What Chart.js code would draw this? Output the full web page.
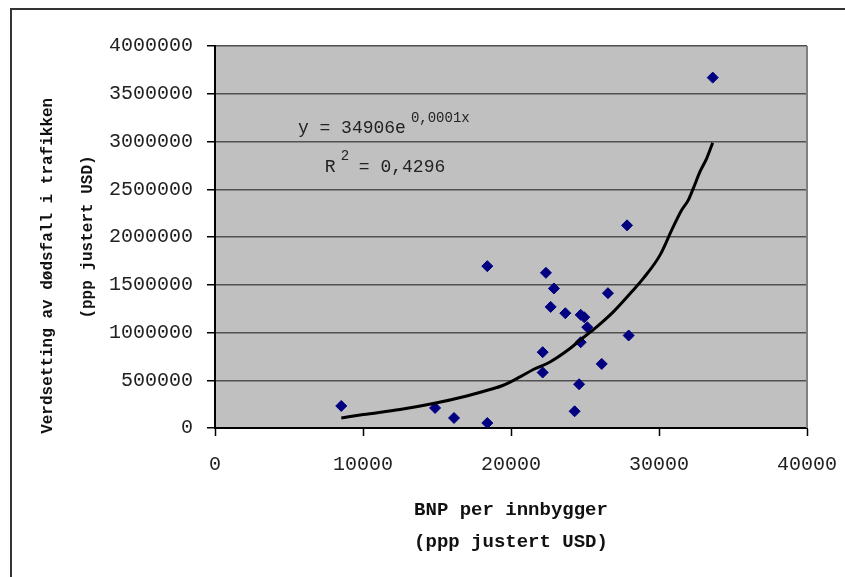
<!DOCTYPE html>
<html>
<head>
<meta charset="utf-8">
<script src="https://cdn.jsdelivr.net/npm/chart.js@4.4.1/dist/chart.umd.min.js"></script>
<style>
  html, body { margin: 0; padding: 0; background: #fff; overflow: hidden; }
  #wrap { position: relative; width: 845px; height: 577px; }
  #frame { position: absolute; left: 10px; top: 8px; width: 900px; height: 700px;
           border-left: 2px solid #333; border-top: 2px solid #333; pointer-events: none; }
  canvas { position: absolute; left: 0; top: 0; }
</style>
</head>
<body>
<div id="wrap">
  <canvas id="c" width="845" height="577"></canvas>
  <div id="frame"></div>
</div>
<script>
// ---- Data ----
const gdpPerCapita = [8530, 14870, 16150, 18400, 18400, 22140, 22140, 22360, 22680, 22900, 23670,
                      24300, 24600, 24710, 24710, 24950, 25150, 26130, 26550, 27840, 27950, 33630];
const deathValuation = [231000, 210000, 105000, 52000, 1695000, 794000, 581000, 1625000, 1268000, 1461000, 1202000,
                        175000, 458000, 898000, 1185000, 1160000, 1056000, 671000, 1412000, 2122000, 969000, 3669000];

// Trend line
const trendX = [8534, 10020, 12500, 14750, 17007, 18581, 19480, 20608, 21507, 22635, 23986, 24662, 25791,
                26912, 28155, 28939, 30068, 30858, 31534, 31980, 32318, 32770, 33223, 33628];
const trendY = [104800, 140500, 192900, 255800, 335400, 402500, 447600, 534600, 612200, 691800, 832300, 919300, 1058700,
                1215900, 1425600, 1566000, 1810300, 2072300, 2281900, 2386700, 2509400, 2683400, 2823900, 2987400];

const xTickLabels = ["0", "10000", "20000", "30000", "40000"];
const yTickLabels = ["0", "500000", "1000000", "1500000", "2000000", "2500000", "3000000", "3500000", "4000000"];

const xTitle = ["BNP per innbygger", "(ppp justert USD)"];
const yTitle = ["Verdsetting av dødsfall i trafikken      ", "(ppp justert USD)"];

const eqMain = "y = 34906e";
const eqExp = "0,0001x";
const r2Main = "R";
const r2Exp = "2";
const r2Rest = "= 0,4296";
// anchor of the equation label in data units
const eqAnchor = { x: 5600, y: 3089000 };
const r2Anchor = { x: 7420, y: 2683000 };

// ---- Chart ----
const monoFont = "'Liberation Mono', 'DejaVu Sans Mono', monospace";

const plotBg = {
  id: 'plotBg',
  beforeDraw(chart) {
    const { ctx, chartArea: a } = chart;
    ctx.save();
    ctx.fillStyle = '#C0C0C0';
    ctx.fillRect(a.left, a.top, a.right - a.left, a.bottom - a.top);
    ctx.restore();
  },
  afterDraw(chart) {
    const { ctx, chartArea: a, scales } = chart;
    ctx.save();
    ctx.strokeStyle = '#808080';
    ctx.lineWidth = 2;
    ctx.beginPath();
    ctx.moveTo(a.right, a.top);
    ctx.lineTo(a.right, a.bottom);
    ctx.stroke();

    // equation label
    ctx.fillStyle = '#222';
    ctx.textBaseline = 'alphabetic';
    ctx.textAlign = 'left';
    const ex = scales.x.getPixelForValue(eqAnchor.x);
    const ey = scales.y.getPixelForValue(eqAnchor.y);
    ctx.font = "18px " + monoFont;
    ctx.fillText(eqMain, ex, ey);
    const w1 = ctx.measureText(eqMain).width;
    ctx.font = "14px " + monoFont;
    ctx.fillText(eqExp, ex + w1 + 5, ey - 11);

    const rx = scales.x.getPixelForValue(r2Anchor.x);
    const ry = scales.y.getPixelForValue(r2Anchor.y);
    ctx.font = "18px " + monoFont;
    ctx.fillText(r2Main, rx, ry);
    ctx.font = "14px " + monoFont;
    ctx.fillText(r2Exp, rx + 16, ry - 12);
    ctx.font = "18px " + monoFont;
    ctx.fillText(r2Rest, rx + 34, ry);
    ctx.restore();
  }
};

new Chart(document.getElementById('c'), {
  type: 'scatter',
  data: {
    datasets: [
      {
        label: 'Trend',
        data: trendX.map((x, i) => ({ x: x, y: trendY[i] })),
        showLine: true,
        borderColor: '#000',
        borderWidth: 3,
        pointRadius: 0,
        cubicInterpolationMode: 'monotone',
        order: 0
      },
      {
        label: 'Land',
        data: gdpPerCapita.map((x, i) => ({ x: x, y: deathValuation[i] })),
        pointStyle: 'rectRot',
        pointRadius: 5.5,
        backgroundColor: '#000080',
        borderColor: '#000080',
        borderWidth: 1,
        order: 1
      }
    ]
  },
  options: {
    responsive: false,
    animation: false,
    devicePixelRatio: 1,
    layout: { padding: { top: 46, right: 38, bottom: 0, left: 0 } },
    plugins: { legend: { display: false }, tooltip: { enabled: false } },
    scales: {
      x: {
        type: 'linear',
        min: 0, max: 40000,
        afterFit(axis) { axis.height = 149; axis.paddingLeft = 0; axis.paddingRight = 0; },
        ticks: {
          stepSize: 10000,
          color: '#222',
          padding: 17,
          font: { family: monoFont, size: 20 },
          callback: (v, i) => xTickLabels[i]
        },
        grid: { drawOnChartArea: false, drawTicks: true, tickLength: 8, tickColor: '#000', tickWidth: 1.5 },
        border: { display: true, color: '#000', width: 2 },
        title: {
          display: true,
          text: xTitle,
          color: '#111',
          font: { family: monoFont, size: 19, weight: 'bold', lineHeight: 1.684 },
          padding: { top: 0, bottom: 19 }
        }
      },
      y: {
        type: 'linear',
        min: 0, max: 4000000,
        afterFit(axis) { axis.width = 215; axis.paddingTop = 0; axis.paddingBottom = 0; },
        ticks: {
          stepSize: 500000,
          color: '#222',
          padding: 14,
          font: { family: monoFont, size: 20 },
          callback: (v, i) => yTickLabels[i]
        },
        grid: { color: '#505050', lineWidth: 1.5, drawTicks: true, tickLength: 8, tickColor: '#000', tickWidth: 1.5 },
        border: { display: true, color: '#000', width: 2 },
        title: {
          display: true,
          text: yTitle,
          color: '#111',
          font: { family: monoFont, size: 16, weight: 'bold', lineHeight: 2.5 },
          padding: { top: 28, bottom: 0 }
        }
      }
    }
  },
  plugins: [plotBg]
});
</script>
</body>
</html>
